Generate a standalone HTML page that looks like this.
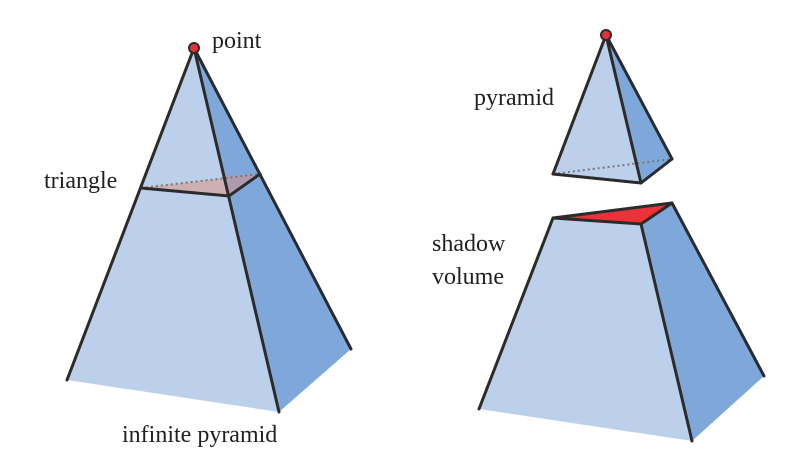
<!DOCTYPE html>
<html><head><meta charset="utf-8"><style>
html,body{margin:0;padding:0;background:#fff;width:805px;height:471px;overflow:hidden}
text{font-family:"Liberation Serif",serif;font-size:24px;fill:#231f20}
</style></head><body>
<svg width="805" height="471" viewBox="0 0 805 471">
<g>
<polygon points="194,48 67,380 279,412" fill="#bdd0eb"/>
<polygon points="194,48 279,412 351,349" fill="#7fa8da"/>
<polygon points="141,188 229,196 260,174" fill="#cfaeb0" opacity="0.95"/>
<polygon points="229,196 260,174 225,176" fill="#b09aaf"/>
<line x1="141" y1="188" x2="260" y2="174" stroke="#777" stroke-width="2" stroke-dasharray="2,3"/>
<g stroke="#2b2b2b" stroke-width="3" fill="none" stroke-linecap="round">
<line x1="194" y1="48" x2="67" y2="380"/>
<line x1="194" y1="48" x2="279" y2="412"/>
<line x1="194" y1="48" x2="351" y2="349"/>
<polyline points="141,188 229,196 260,174"/>
</g>
<circle cx="194" cy="48" r="5" fill="#e8303a" stroke="#2b2b2b" stroke-width="2"/>
</g>
<g>
<polygon points="553,218 479,409 692,441 641,224" fill="#bdd0eb"/>
<polygon points="641,224 692,441 764,376 672,203" fill="#7fa8da"/>
<polygon points="553,218 641,224 672,203" fill="#ec3238" stroke="#2b2b2b" stroke-width="3" stroke-linejoin="round"/>
<g stroke="#2b2b2b" stroke-width="3" fill="none" stroke-linecap="round">
<line x1="553" y1="218" x2="479" y2="409"/>
<line x1="641" y1="224" x2="692" y2="441"/>
<line x1="672" y1="203" x2="764" y2="376"/>
</g>
</g>
<g>
<polygon points="606,35 553,174 641,183" fill="#bdd0eb"/>
<polygon points="606,35 641,183 672,159" fill="#7fa8da"/>
<line x1="553" y1="174" x2="672" y2="159" stroke="#777" stroke-width="2" stroke-dasharray="2,3"/>
<g stroke="#2b2b2b" stroke-width="3" fill="none" stroke-linecap="round" stroke-linejoin="round">
<line x1="606" y1="35" x2="553" y2="174"/>
<line x1="606" y1="35" x2="641" y2="183"/>
<line x1="606" y1="35" x2="672" y2="159"/>
<polyline points="553,174 641,183 672,159"/>
</g>
<circle cx="606" cy="35" r="5" fill="#e8303a" stroke="#2b2b2b" stroke-width="2"/>
</g>
<text x="212" y="48">point</text>
<text x="44" y="188">triangle</text>
<text x="122" y="442">infinite pyramid</text>
<text x="474" y="105">pyramid</text>
<text x="432" y="251">shadow</text>
<text x="432" y="284">volume</text>
</svg>
</body></html>
